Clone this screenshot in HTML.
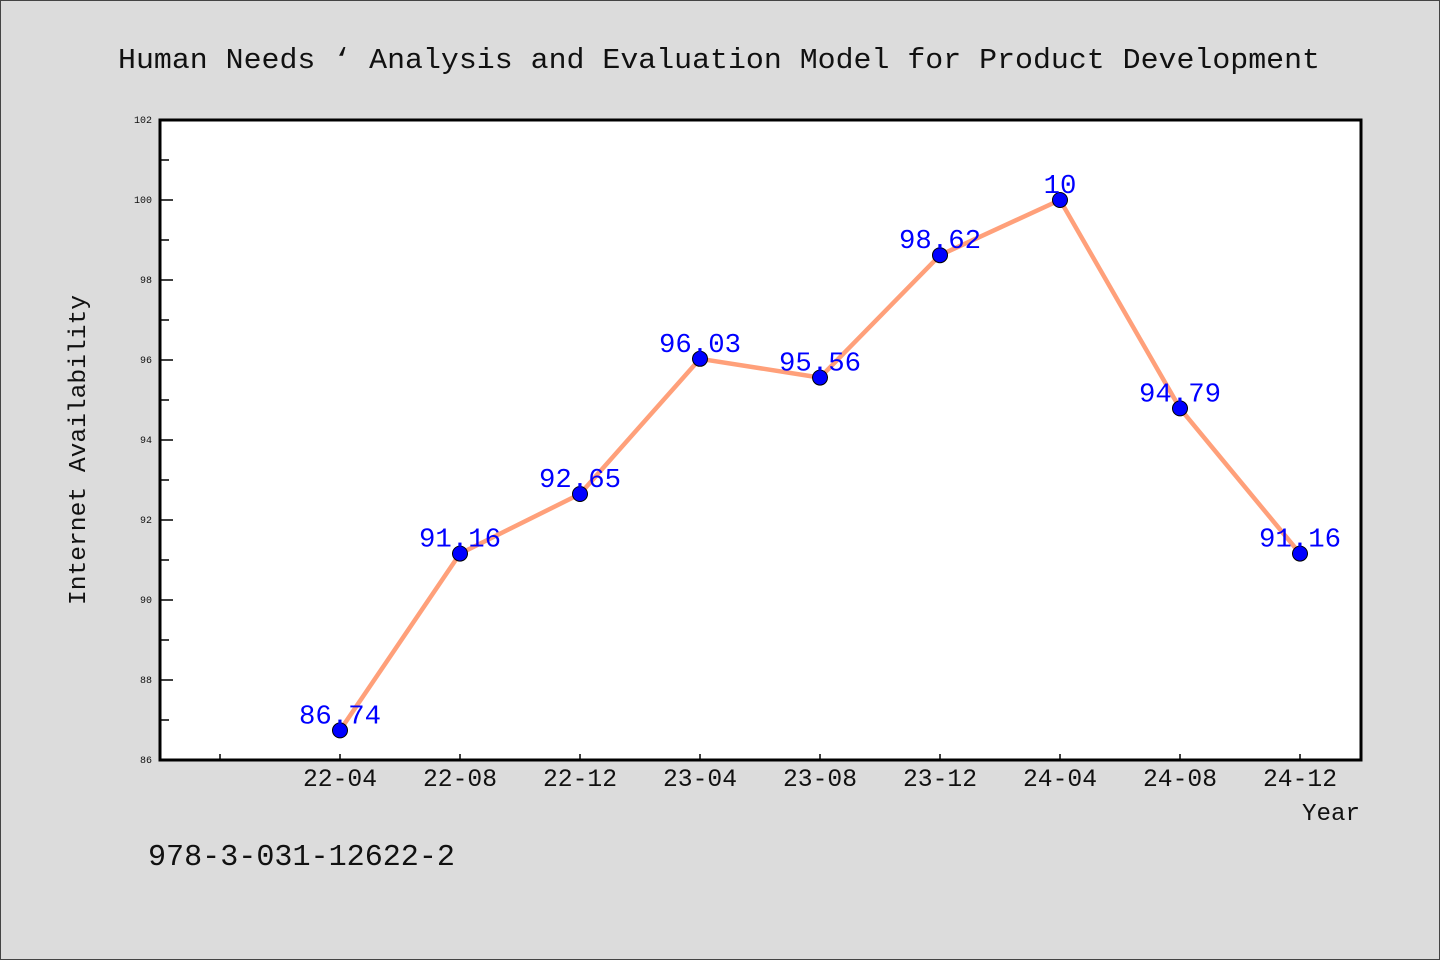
<!DOCTYPE html>
<html><head><meta charset="utf-8"><style>
html,body{margin:0;padding:0;background:#dcdcdc;}
svg{display:block;font-family:"WenQuanYi Zen Hei Mono","Liberation Mono",monospace;}
</style></head><body>
<svg id="chart" width="1440" height="960" viewBox="0 0 1440 960">
<rect x="0.5" y="0.5" width="1439" height="959" fill="#dcdcdc" stroke="#444"/>
<text x="118" y="68" font-size="29" textLength="1202" lengthAdjust="spacingAndGlyphs" fill="#111">Human Needs ‘ Analysis and Evaluation Model for Product Development</text>
<rect x="160" y="120" width="1201" height="640" fill="#fff"/>
<g id="axes"></g>
<g id="series"></g>
<rect x="160" y="120" width="1201" height="640" fill="none" stroke="#000" stroke-width="3"/>
<text transform="translate(85,605) rotate(-90)" font-size="24" textLength="310" lengthAdjust="spacingAndGlyphs" fill="#111">Internet Availability</text>
<text x="1302" y="820" font-size="24" textLength="58" lengthAdjust="spacingAndGlyphs" fill="#111">Year</text>
<text x="148" y="865" font-size="31" textLength="307" lengthAdjust="spacingAndGlyphs" fill="#111">978-3-031-12622-2</text>
</svg>
<script>
const categories = ["22-04","22-08","22-12","23-04","23-08","23-12","24-04","24-08","24-12"];
const values = [86.74,91.16,92.65,96.03,95.56,98.62,100,94.79,91.16];
const valueLabels = ["86.74","91.16","92.65","96.03","95.56","98.62","10","94.79","91.16"];
const yTicks = [86,88,90,92,94,96,98,100,102];

const NS="http://www.w3.org/2000/svg";
const x0=160,x1=1360,y0=760,y1=120,yMin=86,yMax=102;
const xScale=i=>x0+(i+1.5)*(x1-x0)/(categories.length+1);
const yScale=v=>y0-(v-yMin)*(y0-y1)/(yMax-yMin);
function mk(tag,attrs,parent){const e=document.createElementNS(NS,tag);for(const k in attrs)e.setAttribute(k,attrs[k]);parent.appendChild(e);return e;}
const axes=document.getElementById('axes'),series=document.getElementById('series');

yTicks.forEach((t,i)=>{
  const y=yScale(t);
  const l=mk('line',{x1:160,x2:173,y1:y,y2:y,stroke:'#000','stroke-width':1.5},axes);
  
  
  const tx=mk('text',{x:152,y:y+3,'font-size':10,'text-anchor':'end',fill:'#111'},axes);
  tx.textContent=t;
  
  
  if(i<yTicks.length-1){
    const ym=yScale(t+1);
    const m=mk('line',{x1:160,x2:169,y1:ym,y2:ym,stroke:'#000','stroke-width':1.5},axes);
    
    
  }
});
for(let i=-1;i<categories.length;i++){
  const x=xScale(i);
  const l=mk('line',{x1:x,x2:x,y1:760,y2:754,stroke:'#000','stroke-width':1.5},axes);
  
  
  if(i>=0){
    const tx=mk('text',{x:x-37,y:786,'font-size':25,textLength:74,lengthAdjust:'spacingAndGlyphs',fill:'#111'},axes);
    tx.textContent=categories[i];
    
    
  }
}
const pts=values.map((v,i)=>xScale(i)+','+yScale(v)).join(' ');
const pl=mk('polyline',{points:pts,fill:'none',stroke:'#ffa07a','stroke-width':4.5,'stroke-linejoin':'round'},series);


values.forEach((v,i)=>{
  const c=mk('circle',{cx:xScale(i),cy:yScale(v),r:7.5,fill:'#0000ff',stroke:'#000','stroke-width':1},series);
  
  
});
values.forEach((v,i)=>{
  const s=valueLabels[i];
  const w=16.4*s.length;
  const t=mk('text',{x:xScale(i)-w/2,y:yScale(v)-7,'font-size':27,textLength:w,lengthAdjust:'spacingAndGlyphs',fill:'#0000ff'},series);
  t.textContent=s;
  
  
});
</script>
</body></html>
